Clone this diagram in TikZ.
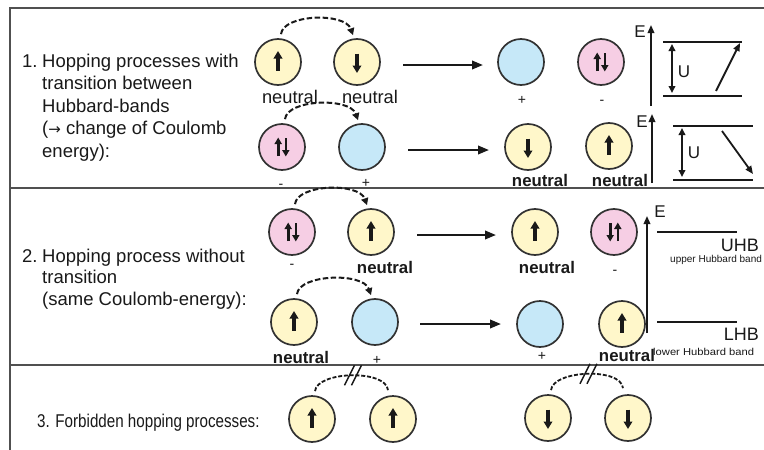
\documentclass[tikz,border=0pt]{standalone}
\usepackage{fontspec}
\setmainfont{Liberation Sans}
\newfontfamily\arrowfont{DejaVu Sans}
\usepackage{graphicx}
\usetikzlibrary{arrows.meta,calc}

\definecolor{spinyellow}{RGB}{255,247,202}
\definecolor{holeblue}{RGB}{198,232,248}
\definecolor{pairpink}{RGB}{246,206,228}
\definecolor{rim}{RGB}{50,50,50}
\definecolor{framegray}{RGB}{80,80,80}
\definecolor{ink}{RGB}{25,25,25}

\tikzset{
  pics/spinup/.style={code={\draw[spinarrow] (0,8.5) -- (0,-11);}},
  pics/spindown/.style={code={\draw[spinarrow] (0,-8.5) -- (0,11);}},
  pics/pairud/.style={code={
    \draw[pairarrow] (-3.8,9) -- (-3.8,-9.5);
    \draw[pairarrow] (3.8,-9) -- (3.8,9.5);}},
  pics/pairdu/.style={code={
    \draw[pairarrow] (-3.8,-9) -- (-3.8,9.5);
    \draw[pairarrow] (3.8,9) -- (3.8,-9.5);}},
}

\begin{document}
\begin{tikzpicture}[x=1pt,y=-1pt,
  site/.style={circle,draw=rim,line width=1.7pt,minimum size=46pt,inner sep=0pt},
  ysite/.style={site,fill=spinyellow},
  bsite/.style={site,fill=holeblue},
  psite/.style={site,fill=pairpink},
  spinarrow/.style={ink,line width=3.3pt,-{Triangle[length=7.5pt,width=8.5pt]}},
  pairarrow/.style={ink,line width=2.6pt,-{Triangle[length=6.5pt,width=7pt]}},
  hop/.style={ink,line width=2pt,dash pattern=on 5.5pt off 2.5pt,-{Triangle[length=7pt,width=7pt]}},
  nohop/.style={ink,line width=1.8pt,dash pattern=on 4pt off 1.8pt},
  cut/.style={ink,line width=1.4pt},
  proc/.style={ink,line width=2.2pt,-{Triangle[length=11pt,width=8.5pt]}},
  axis/.style={ink,line width=1.8pt,-{Triangle[length=8pt,width=6.5pt]}},
  gap/.style={ink,line width=1.8pt,{Triangle[length=7pt,width=6.5pt]}-{Triangle[length=7pt,width=6.5pt]}},
  level/.style={ink,line width=1.7pt},
  rule/.style={framegray,line width=2pt},
  desc/.style={anchor=base west,inner sep=0pt,text=ink,font=\fontsize{18.5}{22}\selectfont},
  lab/.style={inner sep=0pt,text=ink,font=\fontsize{18.3}{20}\selectfont},
  blab/.style={inner sep=0pt,text=ink,font=\fontsize{16.8}{20}\selectfont\bfseries},
  sign/.style={inner sep=0pt,text=ink,font=\fontsize{14}{16}\selectfont},
  elab/.style={inner sep=0pt,text=ink,font=\fontsize{17}{18}\selectfont},
  band/.style={inner sep=0pt,text=ink,font=\fontsize{18}{20}\selectfont},
  bandnote/.style={inner sep=0pt,anchor=west,text=ink,font=\fontsize{10}{11}\selectfont},
]
\useasboundingbox (0,0) rectangle (764,450);
\clip (0,0) rectangle (764,450);
\fill[white] (0,0) rectangle (764,450);

% frame and section rules
\draw[rule] (764,8) -- (10,8) -- (10,452);
\draw[rule] (10,188) -- (764,188);
\draw[rule] (10,365) -- (764,365);

% ---------- section 1 ----------
\node[desc] (t1a) at (22,67) {1.};
\node[desc] (t1b) at (42,67) {Hopping processes with};
\node[desc] (t1c) at (42,89.5) {transition between};
\node[desc] (t1d) at (42,112) {Hubbard-bands};
\node[desc] (t1e) at (42,134.5) {({\arrowfont\fontsize{15}{18}\selectfont →} change of Coulomb};
\node[desc] (t1f) at (42,157) {energy):};

% row 1
\node[ysite] (A1) at (278,62) {};
\node[ysite] (A2) at (357,62) {};
\node[bsite] (A3) at (521,62) {};
\node[psite] (A4) at (601,62) {};
\pic at (A1) {spinup};
\pic at (A2) {spindown};
\pic at (A4) {pairud};
\node[lab] (nA1) at (290,97) {neutral};
\node[lab] (nA2) at (370,97) {neutral};
\node[sign] (sA3) at (522,100) {+};
\node[sign] (sA4) at (602,102) {-};
\draw[hop] ($(A1.north)+(3,-4)$) .. controls +(2,-20) and +(-8,-23) .. ($(A2.north)+(-4,-3)$);
\coordinate (pA0) at (403,65);
\coordinate (pA1) at (483,65);
\draw[proc] (pA0) -- (pA1);

% row 2
\node[psite] (B1) at (282,147) {};
\node[bsite] (B2) at (362,147) {};
\node[ysite] (B3) at (528,147) {};
\node[ysite] (B4) at (609,146) {};
\pic at (B1) {pairud};
\pic at (B3) {spindown};
\pic at (B4) {spinup};
\node[sign] (sB1) at (281,186) {-};
\node[sign] (sB2) at (366,183) {+};
\node[blab] (nB3) at (540,180) {neutral};
\node[blab] (nB4) at (620,180) {neutral};
\draw[hop] ($(B1.north)+(3,-4)$) .. controls +(2,-20) and +(-8,-23) .. ($(B2.north)+(-4,-3)$);
\coordinate (pB0) at (408,150);
\coordinate (pB1) at (489,150);
\draw[proc] (pB0) -- (pB1);

% energy sketch, upward hop
\coordinate (eA0) at (651,106);
\coordinate (eA1) at (651,25);
\draw[axis] (eA0) -- (eA1);
\node[elab] (EA) at (640,32) {E};
\coordinate (uA0) at (663,42);  \coordinate (uA1) at (742,42);
\coordinate (lA0) at (663,96);  \coordinate (lA1) at (742,96);
\draw[level] (uA0) -- (uA1);
\draw[level] (lA0) -- (lA1);
\coordinate (gA0) at (672,44); \coordinate (gA1) at (672,93);
\draw[gap] (gA0) -- (gA1);
\node[elab] (UA) at (684,72) {U};
\coordinate (dA0) at (716,91); \coordinate (dA1) at (740,43);
\draw[axis] (dA0) -- (dA1);

% energy sketch, downward hop
\coordinate (eB0) at (652,183);
\coordinate (eB1) at (652,114);
\draw[axis] (eB0) -- (eB1);
\node[elab] (EB) at (642,122) {E};
\coordinate (uB0) at (673,126);  \coordinate (uB1) at (753,126);
\coordinate (lB0) at (673,180);  \coordinate (lB1) at (753,180);
\draw[level] (uB0) -- (uB1);
\draw[level] (lB0) -- (lB1);
\coordinate (gB0) at (682,128); \coordinate (gB1) at (682,177);
\draw[gap] (gB0) -- (gB1);
\node[elab] (UB) at (694,153) {U};
\coordinate (dB0) at (722,131); \coordinate (dB1) at (753,174);
\draw[axis] (dB0) -- (dB1);

% ---------- section 2 ----------
\node[desc] (t2a) at (22,262) {2.};
\node[desc] (t2b) at (42,262) {Hopping process without};
\node[desc] (t2c) at (42,283.5) {transition};
\node[desc] (t2d) at (42,305) {(same Coulomb-energy):};

% row 1
\node[psite] (C1) at (292,232) {};
\node[ysite] (C2) at (371,232) {};
\node[ysite] (C3) at (535,232) {};
\node[psite] (C4) at (614,232) {};
\pic at (C1) {pairud};
\pic at (C2) {spinup};
\pic at (C3) {spinup};
\pic at (C4) {pairdu};
\node[sign] (sC1) at (292,266) {-};
\node[blab] (nC2) at (385,267) {neutral};
\node[blab] (nC3) at (547,267) {neutral};
\node[sign] (sC4) at (615,272) {-};
\draw[hop] ($(C1.north)+(3,-4)$) .. controls +(2,-20) and +(-8,-23) .. ($(C2.north)+(-4,-3)$);
\coordinate (pC0) at (417,235);
\coordinate (pC1) at (496,235);
\draw[proc] (pC0) -- (pC1);

% row 2
\node[ysite] (D1) at (294,322) {};
\node[bsite] (D2) at (375,322) {};
\node[bsite] (D3) at (540,324) {};
\node[ysite] (D4) at (622,324) {};
\pic at (D1) {spinup};
\pic at (D4) {spinup};
\node[blab] (nD1) at (301,357) {neutral};
\node[sign] (sD2) at (377,360) {+};
\node[sign] (sD3) at (542,356) {+};
\node[blab] (nD4) at (627,355) {neutral};
\draw[hop] ($(D1.north)+(3,-4)$) .. controls +(2,-20) and +(-8,-23) .. ($(D2.north)+(-4,-3)$);
\coordinate (pD0) at (420,324);
\coordinate (pD1) at (501,324);
\draw[proc] (pD0) -- (pD1);

% Hubbard bands
\coordinate (eC0) at (647,333);
\coordinate (eC1) at (647,216);
\draw[axis] (eC0) -- (eC1);
\node[elab] (EC) at (660,212) {E};
\coordinate (uC0) at (657,232); \coordinate (uC1) at (737,232);
\coordinate (lC0) at (657,322); \coordinate (lC1) at (737,322);
\draw[level] (uC0) -- (uC1);
\draw[level] (lC0) -- (lC1);
\node[band,anchor=east] (UHB) at (759,245) {UHB};
\node[bandnote] (uhbnote) at (670,260) {upper Hubbard band};
\node[band,anchor=east] (LHB) at (759,334) {LHB};
\node[bandnote] (lhbnote) at (653,352) {\scalebox{1.12}[1]{lower Hubbard band}};

% ---------- section 3 ----------
\node[desc] (t3) at (37,427) {\scalebox{0.82}[1]{3. Forbidden hopping processes:}};

\node[ysite] (F1) at (312,419) {};
\node[ysite] (F2) at (393,419) {};
\node[ysite] (F3) at (548,418) {};
\node[ysite] (F4) at (628,418) {};
\pic at (F1) {spinup};
\pic at (F2) {spinup};
\pic at (F3) {spindown};
\pic at (F4) {spindown};

\draw[nohop] ($(F1.north)+(3,-4)$) .. controls +(2,-20) and +(-2,-21) .. ($(F2.north)+(-5,-5)$) coordinate[pos=0.5] (cutF);
\draw[cut] ($(cutF)+(-7,10)$) -- ($(cutF)+(3,-10)$);
\draw[cut] ($(cutF)+(0,10)$) -- ($(cutF)+(10,-10)$);

\draw[nohop] ($(F3.north)+(3,-4)$) .. controls +(2,-20) and +(-2,-21) .. ($(F4.north)+(-5,-6)$) coordinate[pos=0.5] (cutG);
\draw[cut] ($(cutG)+(-7,10)$) -- ($(cutG)+(3,-10)$);
\draw[cut] ($(cutG)+(0,10)$) -- ($(cutG)+(10,-10)$);
\end{tikzpicture}
\end{document}
